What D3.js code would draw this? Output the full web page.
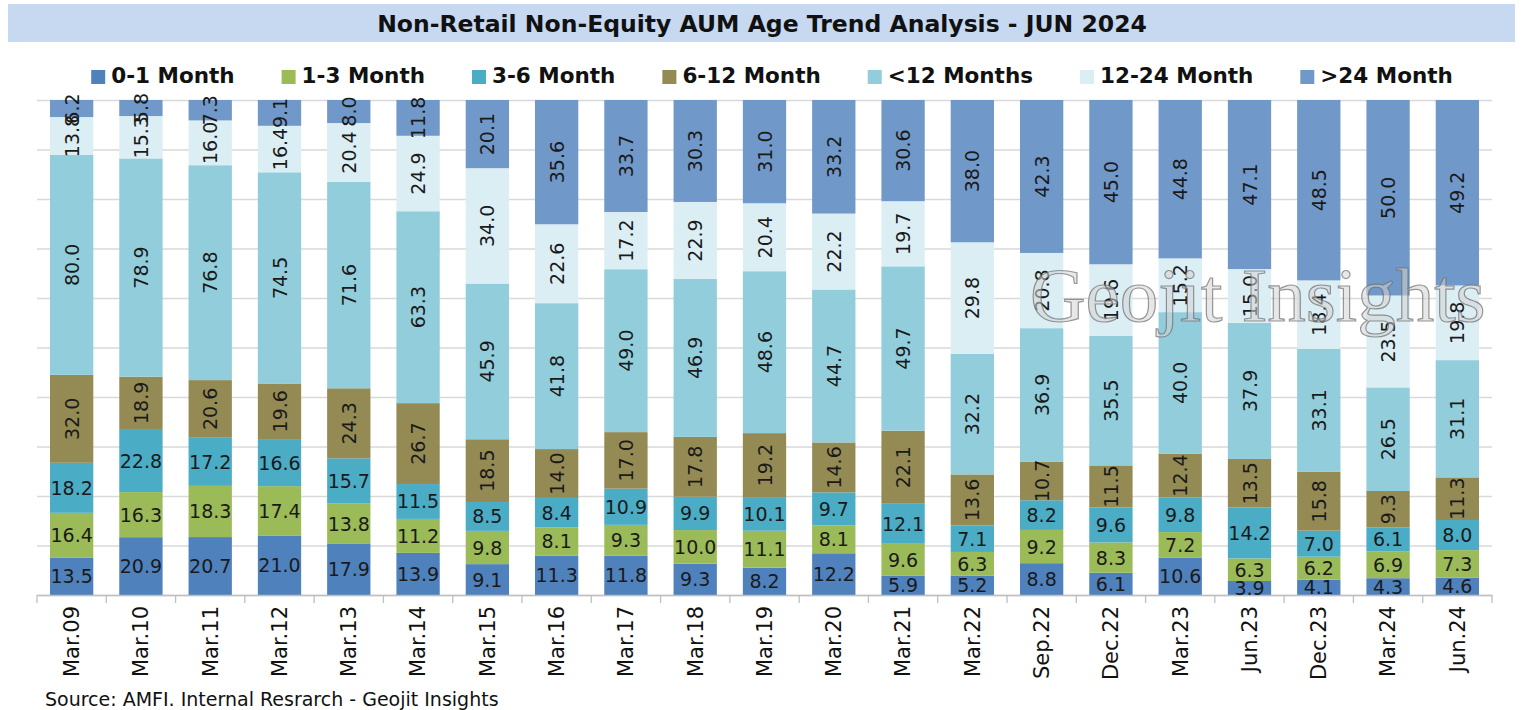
<!DOCTYPE html>
<html>
<head>
<meta charset="utf-8">
<script src="https://cdn.jsdelivr.net/npm/d3@7"></script>
<style>
  body { margin: 0; background: #fff; }
  svg { display: block; }
</style>
</head>
<body>
<div id="chart"></div>
<script>
// categories and series
const categories = ["Mar.09", "Mar.10", "Mar.11", "Mar.12", "Mar.13", "Mar.14", "Mar.15",
  "Mar.16", "Mar.17", "Mar.18", "Mar.19", "Mar.20", "Mar.21", "Mar.22", "Sep.22",
  "Dec.22", "Mar.23", "Jun.23", "Dec.23", "Mar.24", "Jun.24"];

const seriesNames = ["0-1 Month", "1-3 Month", "3-6 Month", "6-12 Month",
  "<12 Months", "12-24 Month", ">24 Month"];

const m0_1 = [13.5, 20.9, 20.7, 21.0, 17.9, 13.9, 9.1, 11.3, 11.8, 9.3, 8.2, 12.2, 5.9, 5.2, 8.8, 6.1, 10.6, 3.9, 4.1, 4.3, 4.6];
const m1_3 = [16.4, 16.3, 18.3, 17.4, 13.8, 11.2, 9.8, 8.1, 9.3, 10.0, 11.1, 8.1, 9.6, 6.3, 9.2, 8.3, 7.2, 6.3, 6.2, 6.9, 7.3];
const m3_6 = [18.2, 22.8, 17.2, 16.6, 15.7, 11.5, 8.5, 8.4, 10.9, 9.9, 10.1, 9.7, 12.1, 7.1, 8.2, 9.6, 9.8, 14.2, 7.0, 6.1, 8.0];
const m6_12 = [32.0, 18.9, 20.6, 19.6, 24.3, 26.7, 18.5, 14.0, 17.0, 17.8, 19.2, 14.6, 22.1, 13.6, 10.7, 11.5, 12.4, 13.5, 15.8, 9.3, 11.3];
const lt12 = [80.0, 78.9, 76.8, 74.5, 71.6, 63.3, 45.9, 41.8, 49.0, 46.9, 48.6, 44.7, 49.7, 32.2, 36.9, 35.5, 40.0, 37.9, 33.1, 26.5, 31.1];
const m12_24 = [13.8, 15.3, 16.0, 16.4, 20.4, 24.9, 34.0, 22.6, 17.2, 22.9, 20.4, 22.2, 19.7, 29.8, 20.8, 19.6, 15.2, 15.0, 18.4, 23.5, 19.8];
const gt24 = [6.2, 5.8, 7.3, 9.1, 8.0, 11.8, 20.1, 35.6, 33.7, 30.3, 31.0, 33.2, 30.6, 38.0, 42.3, 45.0, 44.8, 47.1, 48.5, 50.0, 49.2];

const seriesValues = [m0_1, m1_3, m3_6, m6_12, lt12, m12_24, gt24];

const colors = ["#4F81BD", "#9BBB59", "#4BACC6", "#948A54", "#92CDDC", "#DBEEF4", "#7098C8"];
// labels of the first three series are written flat, the rest turned
const flatLabels = new Set(["0-1 Month", "1-3 Month", "3-6 Month"]);

const width = 1523;
const height = 710;
const plot = { left: 37, right: 1492, top: 100, bottom: 595 };
const font = "'DejaVu Sans', sans-serif";

const svg = d3.select("#chart")
  .append("svg")
  .attr("width", width)
  .attr("height", height);

// table for the stack
const rows = categories.map((c, i) => {
  const r = { cat: c };
  seriesNames.forEach((s, k) => { r[s] = seriesValues[k][i]; });
  return r;
});

const stacked = d3.stack()
  .keys(seriesNames)
  .offset(d3.stackOffsetExpand)(rows);

const x = d3.scaleBand()
  .domain(categories)
  .range([plot.left, plot.right])
  .paddingInner(0.375)
  .paddingOuter(0.1875);

const y = d3.scaleLinear()
  .domain([0, 1])
  .range([plot.bottom, plot.top]);

const color = d3.scaleOrdinal().domain(seriesNames).range(colors);

// title banner
svg.append("rect")
  .attr("x", 8).attr("y", 4)
  .attr("width", 1507).attr("height", 38)
  .attr("fill", "#C6D9F1");

svg.append("text")
  .attr("x", 762).attr("y", 32)
  .attr("text-anchor", "middle")
  .attr("font-family", font)
  .attr("font-weight", "bold")
  .attr("font-size", 23.5)
  .attr("fill", "#111")
  .text("Non-Retail Non-Equity AUM Age Trend Analysis - JUN 2024");

// legend
const legend = svg.append("g");
const legendGap = 47;
let lx = 0;
seriesNames.forEach(s => {
  const g = legend.append("g");
  g.append("rect")
    .attr("x", 0).attr("y", -13)
    .attr("width", 14).attr("height", 14)
    .attr("fill", color(s));
  const t = g.append("text")
    .attr("x", 20).attr("y", 0)
    .attr("font-family", font)
    .attr("font-weight", "bold")
    .attr("font-size", 21.5)
    .attr("fill", "#111")
    .text(s);
  g.attr("transform", `translate(${lx},0)`);
  lx += 20 + t.node().getComputedTextLength() + legendGap;
});
const legendW = lx - legendGap;
legend.attr("transform", `translate(${772 - legendW / 2},83)`);

// gridlines
svg.append("g")
  .attr("transform", `translate(${plot.left},0)`)
  .call(d3.axisLeft(y).ticks(10).tickSize(-(plot.right - plot.left)).tickFormat(""))
  .call(g => g.select(".domain").remove())
  .call(g => g.selectAll("line").attr("stroke", "#d9d9d9").attr("stroke-width", 1.3));

// bars
const layer = svg.append("g")
  .selectAll("g")
  .data(stacked)
  .enter()
  .append("g")
  .attr("fill", d => color(d.key));

layer.selectAll("rect")
  .data(d => d)
  .enter()
  .append("rect")
  .attr("x", d => x(d.data.cat))
  .attr("y", d => y(d[1]))
  .attr("width", x.bandwidth())
  .attr("height", d => y(d[0]) - y(d[1]));

// x axis
const xAxis = svg.append("g")
  .attr("transform", `translate(0,${plot.bottom})`)
  .call(d3.axisBottom(x).tickSize(0).tickPadding(0));

xAxis.select(".domain").attr("stroke", "#bfbfbf").attr("stroke-width", 1.3);
xAxis.selectAll("text")
  .attr("font-family", font)
  .attr("font-size", 21)
  .attr("fill", "#111")
  .attr("text-anchor", "end")
  .attr("transform", "rotate(-90)")
  .attr("x", -11)
  .attr("y", 0)
  .attr("dy", "0.35em");

// tick marks between categories
xAxis.selectAll(".bound")
  .data(d3.range(categories.length + 1))
  .enter()
  .append("line")
  .attr("class", "bound")
  .attr("x1", i => plot.left + i * x.step())
  .attr("x2", i => plot.left + i * x.step())
  .attr("y1", 0).attr("y2", 8)
  .attr("stroke", "#bfbfbf")
  .attr("stroke-width", 1.3);

// data labels
const labels = svg.append("g");
stacked.forEach((s, k) => {
  const name = s.key;
  s.forEach((d, i) => {
    const cx = x(d.data.cat) + x.bandwidth() / 2;
    const cy = (y(d[0]) + y(d[1])) / 2;
    const t = labels.append("text")
      .attr("font-family", font)
      .attr("font-size", 19)
      .attr("fill", "#1a1a1a")
      .attr("text-anchor", "middle")
      .attr("dominant-baseline", "central")
      .text(d3.format(".1f")(seriesValues[k][i]));
    if (flatLabels.has(name)) {
      t.attr("x", cx).attr("y", cy);
    } else {
      t.attr("transform", `translate(${cx},${cy}) rotate(-90)`);
    }
  });
});

// watermark
svg.append("text")
  .attr("x", 1030).attr("y", 321)
  .attr("font-family", "'Liberation Serif', serif")
  .attr("font-size", 77)
  .attr("fill", "#d4d4d4")
  .attr("fill-opacity", 0.55)
  .attr("stroke", "#6e6e6e")
  .attr("stroke-opacity", 0.7)
  .attr("stroke-width", 1.2)
  .text("Geojit Insights");

// source note
svg.append("text")
  .attr("x", 45).attr("y", 706)
  .attr("font-family", font)
  .attr("font-size", 19)
  .attr("fill", "#111")
  .text("Source: AMFI. Internal Resrarch - Geojit Insights");
</script>
</body>
</html>
